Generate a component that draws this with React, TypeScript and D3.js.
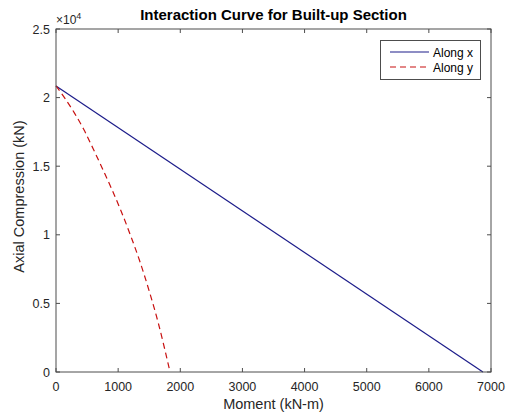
import * as d3 from "d3";

const alongX: [number, number][] = [
  [0, 20850],
  [6870, 0],
];

const alongY: [number, number][] = [
  [0, 20850],
  [150, 19900],
  [300, 18850],
  [450, 17650],
  [600, 16250],
  [750, 14800],
  [900, 13300],
  [1050, 11700],
  [1200, 9950],
  [1350, 8050],
  [1500, 5900],
  [1650, 3500],
  [1835, 0],
];

const xTicks = [0, 1000, 2000, 3000, 4000, 5000, 6000, 7000];
const yTicks = [0, 5000, 10000, 15000, 20000, 25000];
const yTickLabels = ["0", "0.5", "1", "1.5", "2", "2.5"];

const seriesNames = ["Along x", "Along y"];

export default function App() {
  const width = 506;
  const height = 418;
  const marginLeft = 56;
  const marginRight = 15;
  const marginTop = 29;
  const marginBottom = 46;

  const x = d3.scaleLinear().domain([0, 7000]).range([marginLeft, width - marginRight]);
  const y = d3.scaleLinear().domain([0, 25000]).range([height - marginBottom, marginTop]);

  const line = d3
    .line<[number, number]>()
    .x((d) => x(d[0]))
    .y((d) => y(d[1]))
    .curve(d3.curveMonotoneX);

  const axisColor = "#4d4d4d";
  const textColor = "#262626";
  const font = "'Liberation Sans', Arial, sans-serif";
  const x0 = marginLeft;
  const x1 = width - marginRight;
  const y0 = height - marginBottom;
  const y1 = marginTop;
  const tl = 4;

  return (
    <svg
      width={width}
      height={height}
      style={{ position: "absolute", left: 0, top: 0, background: "#fff" }}
      fontFamily={font}
    >
      <rect x={0} y={0} width={width} height={height} fill="#fff" />
      <text x={(x0 + x1) / 2} y={20} textAnchor="middle" fontSize={15} fontWeight="bold" fill="#000">
        Interaction Curve for Built-up Section
      </text>

      {/* data */}
      <path d={String(line(alongX))} fill="none" stroke="#1c1c8a" strokeWidth={1.2} />
      <path
        d={String(line(alongY))}
        fill="none"
        stroke="#c81010"
        strokeWidth={1.2}
        strokeDasharray="6,4"
      />

      {/* box */}
      <rect x={x0} y={y1} width={x1 - x0} height={y0 - y1} fill="none" stroke={axisColor} strokeWidth={1} />

      {xTicks.map((t) => (
        <g key={"x" + t}>
          <line x1={x(t)} x2={x(t)} y1={y0} y2={y0 - tl} stroke={axisColor} />
          <line x1={x(t)} x2={x(t)} y1={y1} y2={y1 + tl} stroke={axisColor} />
          <text x={x(t)} y={y0 + 19} textAnchor="middle" fontSize={12.5} fill={textColor}>
            {t}
          </text>
        </g>
      ))}
      {yTicks.map((t, i) => (
        <g key={"y" + t}>
          <line x1={x0} x2={x0 + tl} y1={y(t)} y2={y(t)} stroke={axisColor} />
          <line x1={x1} x2={x1 - tl} y1={y(t)} y2={y(t)} stroke={axisColor} />
          <text x={x0 - 6} y={y(t) + 4.5} textAnchor="end" fontSize={12.5} fill={textColor}>
            {yTickLabels[i]}
          </text>
        </g>
      ))}

      <text x={x0} y={y1 - 5} fontSize={12} fill={textColor}>
        {"\u00d710"}
        <tspan dy={-5} fontSize={9}>4</tspan>
      </text>

      <text x={(x0 + x1) / 2} y={height - 9} textAnchor="middle" fontSize={14.5} fill={textColor}>
        Moment (kN-m)
      </text>
      <text
        transform={`translate(24,${(y0 + y1) / 2 - 4}) rotate(-90)`}
        textAnchor="middle"
        fontSize={14.5}
        fill={textColor}
      >
        Axial Compression (kN)
      </text>

      {/* legend */}
      <g>
        <rect x={380.5} y={40.5} width={100} height={39} fill="#fff" stroke={axisColor} strokeWidth={1} />
        {seriesNames.map((name, i) => (
          <g key={name}>
            <line
              x1={390}
              x2={429}
              y1={52 + i * 15}
              y2={52 + i * 15}
              stroke={i === 0 ? "#1c1c8a" : "#c81010"}
              strokeWidth={1.2}
              strokeDasharray={i === 0 ? undefined : "6,4"}
            />
            <text x={433} y={56.5 + i * 15} fontSize={12} fill="#000">
              {name}
            </text>
          </g>
        ))}
      </g>
    </svg>
  );
}
